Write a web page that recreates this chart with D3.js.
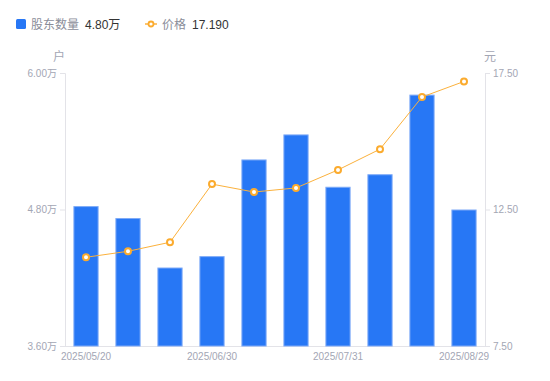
<!DOCTYPE html>
<html><head><meta charset="utf-8">
<script src="https://cdn.jsdelivr.net/npm/d3@7/dist/d3.min.js"></script>
<style>
body{margin:0;background:#fff;}
svg{display:block;font-family:"Liberation Sans",Arial,"Noto Sans CJK SC",sans-serif;}
</style></head>
<body><svg id="c" width="550" height="381"></svg>
<script>
const categories = ["2025/05/20","2025/05/31","2025/06/20","2025/06/30","2025/07/10","2025/07/20","2025/07/31","2025/08/10","2025/08/20","2025/08/29"];
const holders = [4.83,4.725,4.29,4.39,5.24,5.46,5.00,5.11,5.81,4.80]; // 万户
const prices = [10.75,10.97,11.30,13.43,13.14,13.29,13.95,14.71,16.62,17.19];
const leftTicks = [3.6,4.8,6.0];
const rightTicks = [7.5,12.5,17.5];
const shownLabels = ["2025/05/20","2025/06/30","2025/07/31","2025/08/29"];

const svg = d3.select("#c");
const L=65,R=485,T=73,B=346;
const x = d3.scaleBand().domain(categories).range([L,R]).paddingInner(0.4).paddingOuter(0.2);
const xc = d3.scaleBand().domain(categories).range([L,R]);
const yL = d3.scaleLinear().domain([3.6,6.0]).range([B,T]);
const yR = d3.scaleLinear().domain([7.5,17.5]).range([B,T]);
const grayTxt="#a3a6b4", axisCol="#e3e3e8";

// axes
const gL = svg.append("g").attr("transform",`translate(${L},0)`)
  .call(d3.axisLeft(yL).tickValues(leftTicks).tickSize(5).tickPadding(3).tickFormat(d=>d3.format(".2f")(d)+"万"));
const gR = svg.append("g").attr("transform",`translate(${R},0)`)
  .call(d3.axisRight(yR).tickValues(rightTicks).tickSize(5).tickPadding(3).tickFormat(d3.format(".2f")));
const gX = svg.append("g").attr("transform",`translate(0,${B})`)
  .call(d3.axisBottom(xc).tickValues(shownLabels).tickSize(0).tickPadding(7));
[gL,gR,gX].forEach(g=>{
  g.selectAll("path").attr("stroke",axisCol);
  g.selectAll("line").attr("stroke",axisCol);
  g.selectAll("text").attr("fill",grayTxt).attr("font-size",10).attr("font-family","Liberation Sans,Arial,Noto Sans CJK SC,sans-serif");
});
gX.select("path").attr("d",`M${L},0.5H${R}`);

// bars
svg.append("g").selectAll("rect").data(holders).join("rect")
  .attr("x",(d,i)=>x(categories[i])+0.5)
  .attr("y",d=>yL(d)+0.5)
  .attr("width",x.bandwidth()-1)
  .attr("height",d=>B-yL(d)-0.5)
  .attr("fill","#2777f5").attr("stroke","#7eaaf7").attr("stroke-width",1);

// line
const line = d3.line().x((d,i)=>xc(categories[i])+xc.bandwidth()/2).y(d=>yR(d));
svg.append("path").datum(prices).attr("d",line).attr("fill","none").attr("stroke","#fbb13c").attr("stroke-width",1);
svg.append("g").selectAll("circle").data(prices).join("circle")
  .attr("cx",(d,i)=>xc(categories[i])+xc.bandwidth()/2).attr("cy",d=>yR(d)).attr("r",3)
  .attr("fill","#fff").attr("stroke","#fbab2e").attr("stroke-width",2);

// unit labels
svg.append("text").attr("x",59).attr("y",61).attr("text-anchor","middle").attr("font-size",12).attr("fill",grayTxt).attr("font-family","Noto Sans CJK SC").text("户");
svg.append("text").attr("x",490).attr("y",61).attr("text-anchor","middle").attr("font-size",12).attr("fill",grayTxt).attr("font-family","Noto Sans CJK SC").text("元");

// legend
svg.append("rect").attr("x",16).attr("y",19).attr("width",10).attr("height",10).attr("rx",1.5).attr("fill","#2777f5");
svg.append("text").attr("x",31).attr("y",29).attr("font-size",12).attr("fill","#8a8d99").attr("font-family","Noto Sans CJK SC").text("股东数量");
svg.append("text").attr("x",85).attr("y",29).attr("font-size",12).attr("fill","#333").text(d3.format(".2f")(holders[holders.length-1])+"万");
svg.append("line").attr("x1",145).attr("x2",157).attr("y1",24).attr("y2",24).attr("stroke","#fbb13c").attr("stroke-width",1.5);
svg.append("circle").attr("cx",151).attr("cy",24).attr("r",2.5).attr("fill","#fff").attr("stroke","#fbab2e").attr("stroke-width",1.8);
svg.append("text").attr("x",162).attr("y",29).attr("font-size",12).attr("fill","#8a8d99").attr("font-family","Noto Sans CJK SC").text("价格");
svg.append("text").attr("x",192).attr("y",29).attr("font-size",12).attr("fill","#333").text(d3.format(".3f")(prices[prices.length-1]));
</script></body></html>
